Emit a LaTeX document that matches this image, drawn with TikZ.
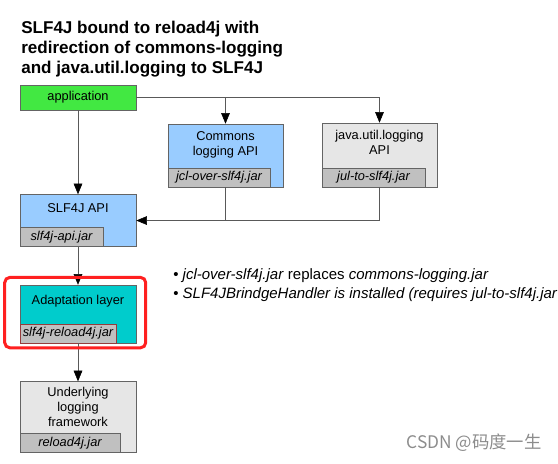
\documentclass[tikz,border=0pt]{standalone}
\usepackage{xcolor}
\usepackage{fontspec}
\setmainfont{Liberation Sans}
\newfontfamily\cjkfont{Noto Sans CJK SC}
\usepackage{tikz}
\usetikzlibrary{arrows.meta, positioning}

\definecolor{verdeapp}{RGB}{66,232,66}
\definecolor{azulapi}{RGB}{153,204,255}
\definecolor{grisfondo}{RGB}{230,230,230}
\definecolor{grisjar}{RGB}{192,192,192}
\definecolor{turquesa}{RGB}{0,204,204}
\definecolor{borde}{RGB}{100,100,100}
\definecolor{rojo}{RGB}{255,32,32}

\begin{document}
\begin{tikzpicture}[
    x=0.75pt, y=-0.75pt,
    font=\fontsize{9.6}{11.25}\selectfont,
    caja/.style={draw=borde, rectangle, minimum width=87pt, inner sep=0pt},
    api/.style={caja, fill=azulapi},
    gris/.style={caja, fill=grisfondo},
    texto/.style={inner sep=0pt, align=center},
    jar/.style={draw=borde, fill=grisjar, anchor=south west, inner sep=0pt,
                minimum height=14.25pt, font=\fontsize{9.6}{11.25}\selectfont\itshape},
    flecha/.style={draw=black!65, -{Triangle[length=8pt, width=6.5pt, color=black]}},
    linea/.style={draw=black!65},
    resalte/.style={draw=rojo, line width=2.25pt, rounded corners=4pt}
  ]
  \useasboundingbox (0,0) rectangle (558,464);

  % --- Titulo ---
  \node[anchor=north west, inner sep=0pt, align=left,
        font=\fontsize{12.8}{15}\selectfont\bfseries] (titulo) at (21,21) {
    SLF4J bound to reload4j with\\
    redirection of commons-logging\\
    and java.util.logging to SLF4J};

  % --- Columna izquierda ---
  \node[caja, fill=verdeapp, minimum height=18.75pt] (app) at (78,97.5) {application};

  \node[api, minimum height=39pt, below=63pt of app] (slf) {};
  \node[texto, below=7pt of slf.north] (slftxt) {SLF4J API};
  \node[jar, minimum width=62.25pt] (slfjar) at (slf.south west) {slf4j-api.jar};

  \node[caja, fill=turquesa, minimum height=43.5pt, below=28.5pt of slf] (adapt) {};
  \node[texto, below=7.5pt of adapt.north] (adapttxt) {Adaptation layer};
  \node[jar, draw={rgb,255:red,150;green,60;blue,60}, minimum width=72pt]
        (adaptjar) at (adapt.south west) {slf4j-reload4j.jar};

  \node[gris, minimum height=53.25pt, below=28.5pt of adapt] (under) {};
  \node[texto, below=4.5pt of under.north] (undertxt) {Underlying\\logging\\framework};
  \node[jar, minimum width=75pt] (underjar) at (under.south west) {reload4j.jar};

  % --- Fila superior: APIs redirigidas ---
  \node[api, minimum width=86.25pt, minimum height=47.25pt] (jcl) at (225.5,155.5) {};
  \node[texto, below=5.5pt of jcl.north] (jcltxt) {Commons\\logging API};
  \node[jar, minimum width=76.5pt] (jcljar) at (jcl.south west) {jcl-over-slf4j.jar};

  \node[gris, minimum width=86.25pt, minimum height=48pt] (jul) at (379.5,155) {};
  \node[texto, below=5.5pt of jul.north] (jultxt) {java.util.logging\\API};
  \node[jar, minimum width=77.25pt] (juljar) at (jul.south west) {jul-to-slf4j.jar};

  % --- Conectores ---
  \draw[flecha] (app.south) -- (slf.north);
  \draw[flecha] (app.east) -| (jul.north);
  \draw[flecha] (app.east -| jcl.north) -- (jcl.north);
  \draw[flecha] (jul.south) |- (slf.east);
  \draw[linea] (jcl.south) -- (jcl.south |- slf.east);
  \draw[flecha] (slf.south) -- (adapt.north);
  \draw[flecha] (adapt.south) -- (under.north);

  % Marco rojo alrededor de la capa de adaptacion
  \draw[resalte] ([xshift=-11.3pt, yshift=5.6pt]adapt.north west)
    rectangle ([xshift=7.1pt, yshift=-3.4pt]adapt.south east);

  % --- Notas ---
  \node[anchor=west, inner sep=0pt, align=left,
        font=\fontsize{11.25}{14.25}\selectfont] (notas) at (173,285.5) {
    \textbullet\ \textit{jcl-over-slf4j.jar} replaces \textit{commons-logging.jar}\\
    \textbullet\ \textit{SLF4JBrindgeHandler is installed (requires jul-to-slf4j.jar}};

  \node[text=black!45, inner sep=0pt, font=\cjkfont\fontsize{13}{14}\selectfont]
        (marca) at (474,443) {CSDN @码度一生};
\end{tikzpicture}
\end{document}
